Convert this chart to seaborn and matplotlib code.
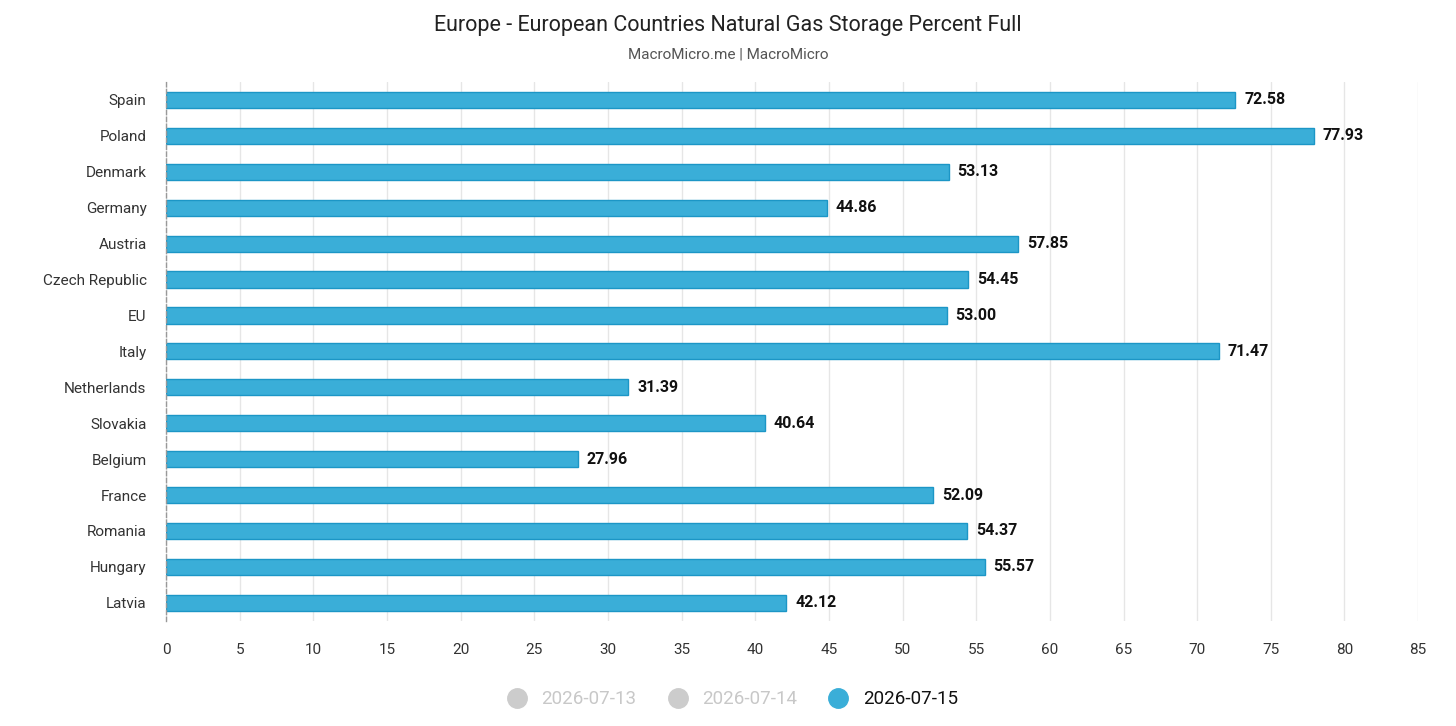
import pandas as pd
import matplotlib.pyplot as plt
import seaborn as sns
from matplotlib.lines import Line2D

countries = ['Spain', 'Poland', 'Denmark', 'Germany', 'Austria', 'Czech Republic', 'EU',
             'Italy', 'Netherlands', 'Slovakia', 'Belgium', 'France', 'Romania', 'Hungary', 'Latvia']
values = [72.58, 77.93, 53.13, 44.86, 57.85, 54.45, 53.00,
          71.47, 31.39, 40.64, 27.96, 52.09, 54.37, 55.57, 42.12]
legend_dates = ['2026-07-13', '2026-07-14', '2026-07-15']
x_ticks = list(range(0, 90, 5))

df = pd.DataFrame({'country': countries, 'value': values})

sns.set_theme(style='white')
plt.rcParams['font.family'] = ['Roboto', 'DejaVu Sans']

fig = plt.figure(figsize=(14.56, 7.26), dpi=100)
ax = fig.add_axes([0.114, 0.145, 0.860, 0.742])

sns.barplot(data=df, x='value', y='country', orient='h', color='#3aaed8',
            edgecolor='#1c96c6', linewidth=1, width=0.45, saturation=1, ax=ax)

# valeurs à droite des barres
for i, v in enumerate(values):
    ax.text(v + 0.6, i, f'{v:.2f}', va='center', ha='left',
            fontsize=11.5, fontweight='bold', color='#111111')

ax.set_xlim(0, 85)
ax.set_ylim(14.5, -0.5)
ax.set_xticks(x_ticks)
ax.set_xlabel('')
ax.set_ylabel('')
ax.grid(axis='x', color='#e6e6e6', linewidth=1)
ax.set_axisbelow(True)
for s in ['top', 'right', 'bottom']:
    ax.spines[s].set_visible(False)
ax.spines['left'].set_color('#999999')
ax.spines['left'].set_linestyle((0, (3, 2)))
ax.spines['left'].set_linewidth(1)
ax.tick_params(axis='both', length=0, labelsize=11, colors='#333333')
ax.tick_params(axis='x', pad=16)
ax.tick_params(axis='y', pad=14)

fig.text(0.5, 0.965, 'Europe - European Countries Natural Gas Storage Percent Full',
         ha='center', va='center', fontsize=15.5, color='#222222')
fig.text(0.5, 0.925, 'MacroMicro.me | MacroMicro', ha='center', va='center',
         fontsize=11, color='#555555')

# légende
colors = ['#cccccc', '#cccccc', '#3aaed8']
handles = [Line2D([0], [0], marker='o', linestyle='', markersize=14,
                  markerfacecolor=c, markeredgecolor=c) for c in colors]
leg = fig.legend(handles, legend_dates, loc='center', bbox_to_anchor=(0.5, 0.037),
                 ncol=3, frameon=False, fontsize=13.5, handletextpad=0.3, columnspacing=1.2)
for t, c in zip(leg.get_texts(), ['#c8c8c8', '#c8c8c8', '#111111']):
    t.set_color(c)

fig.savefig('out.png', dpi=100)
